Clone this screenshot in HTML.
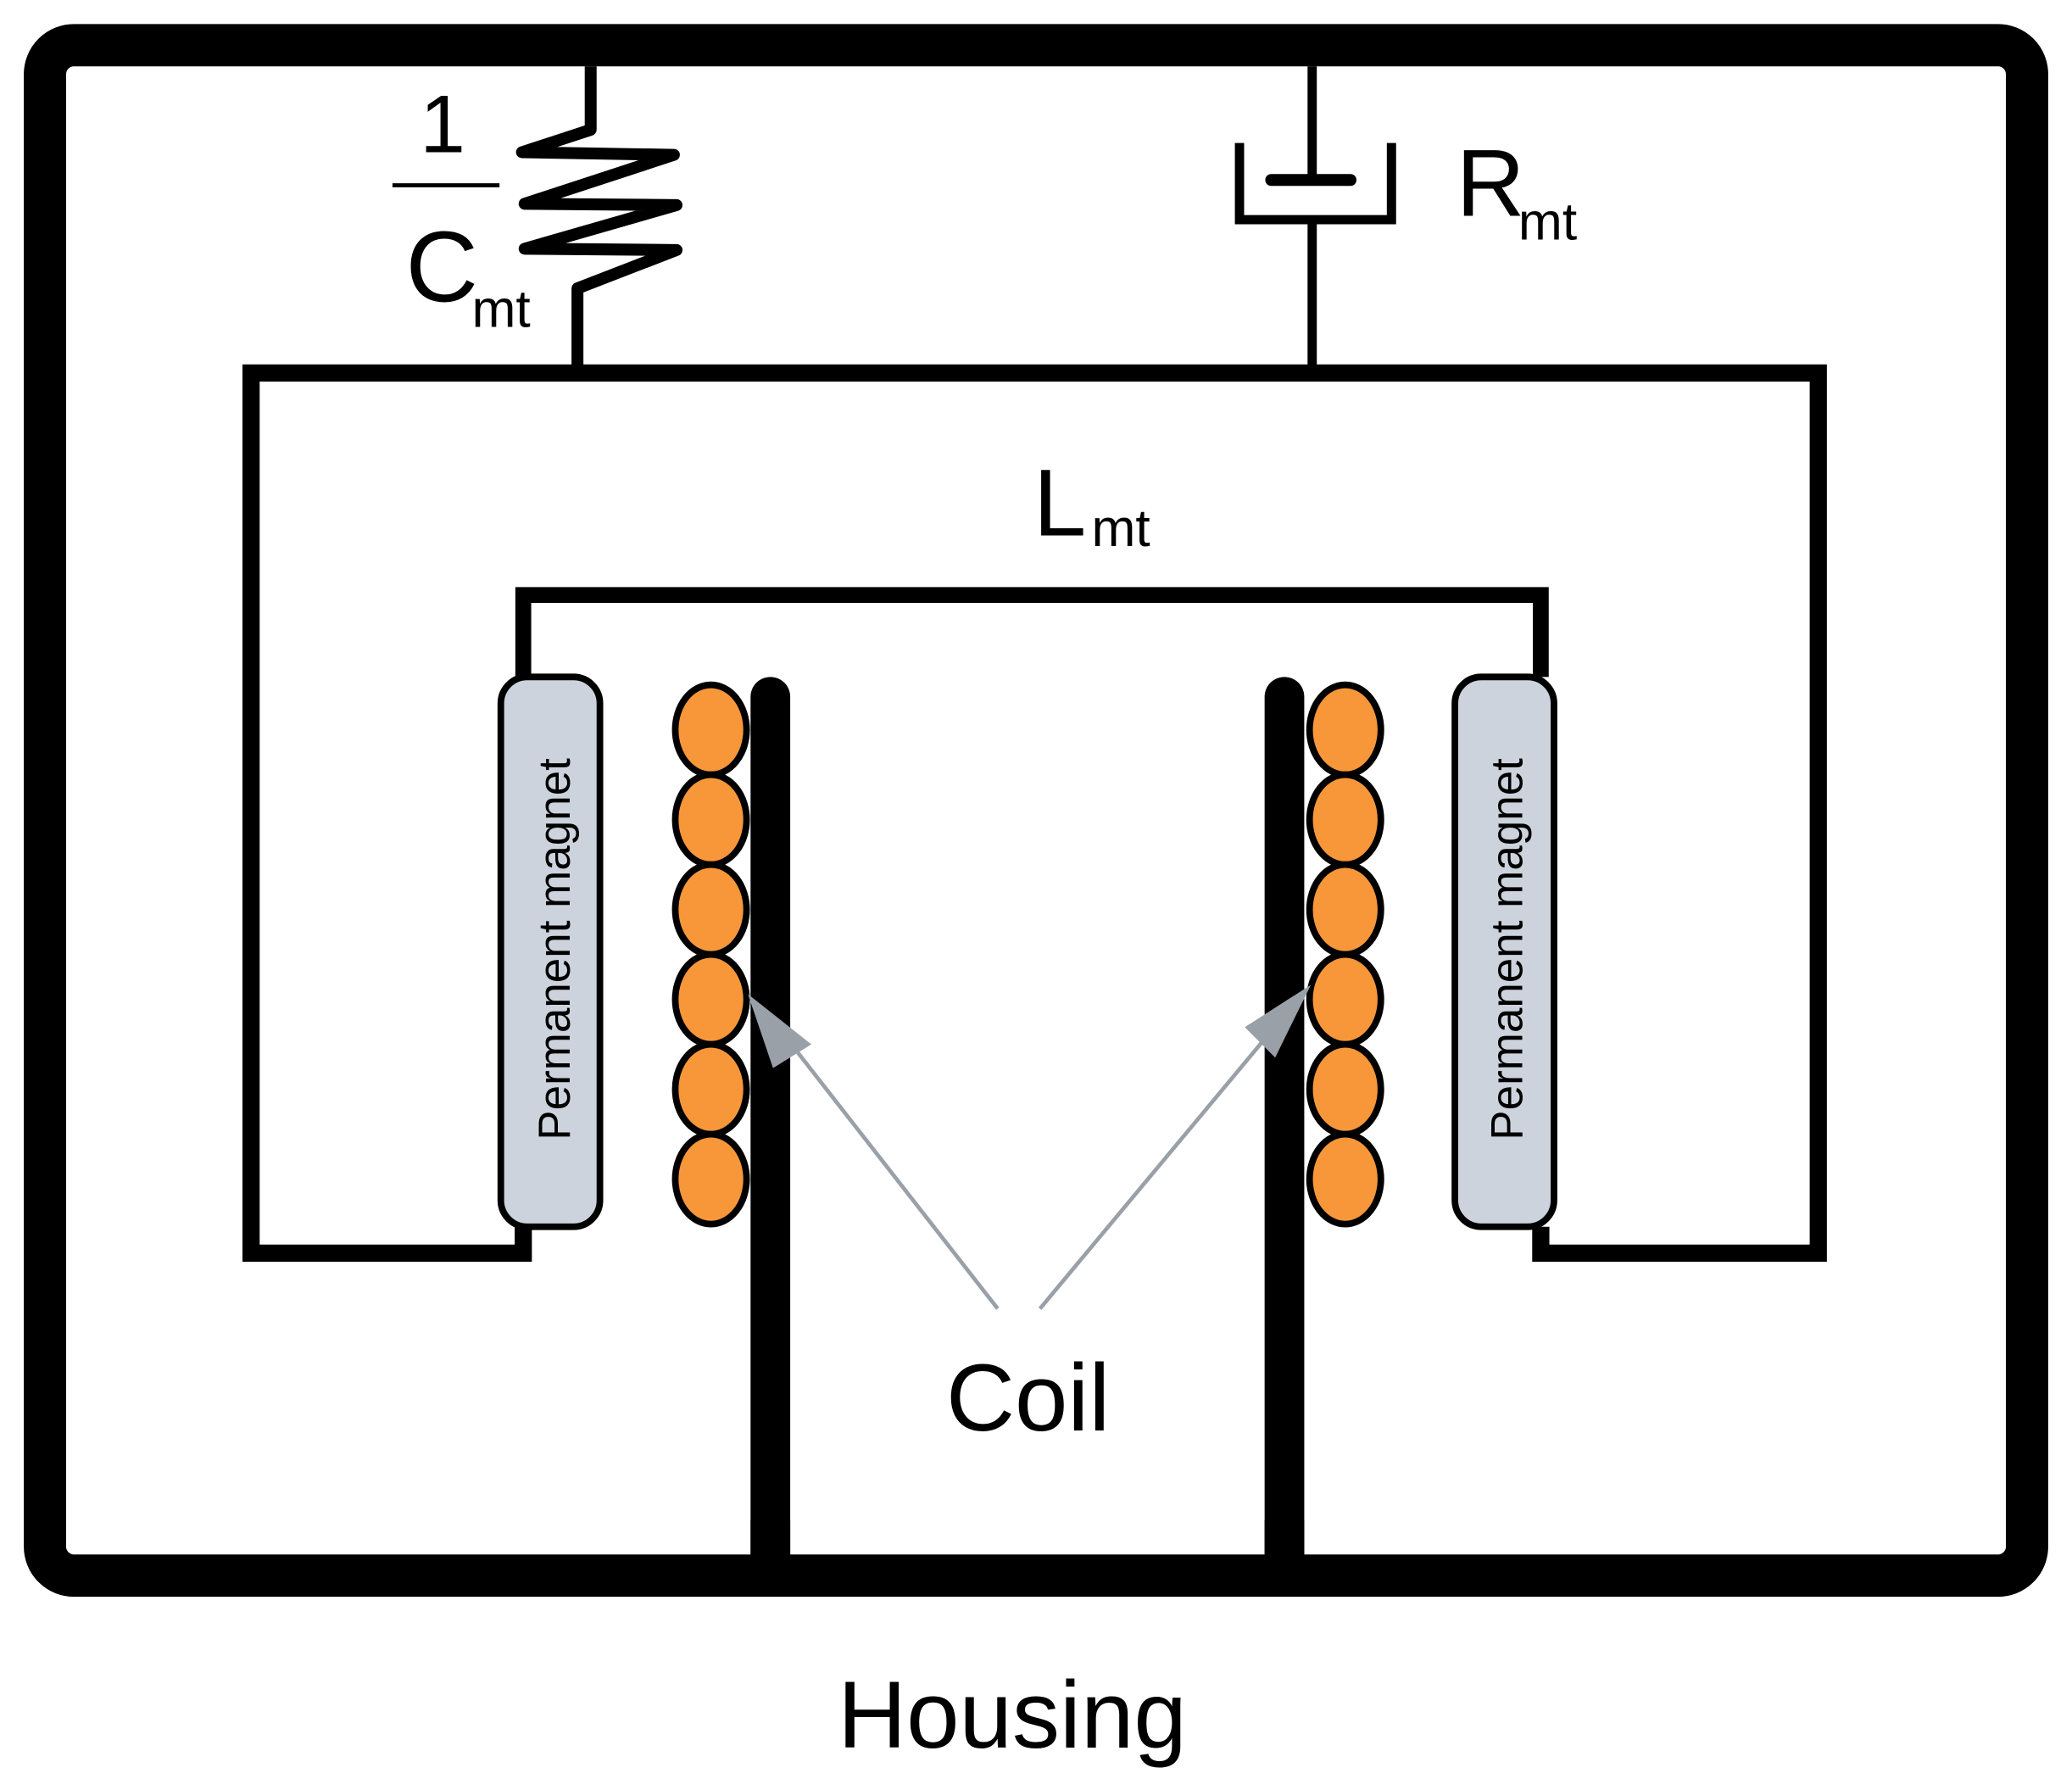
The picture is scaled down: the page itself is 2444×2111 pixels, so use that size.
<!DOCTYPE html>
<html><head><meta charset="utf-8"><style>html,body{margin:0;padding:0;background:#fff}svg{display:block}</style></head>
<body>
<svg width="2444" height="2111" viewBox="0 0 1568 1354" xmlns="http://www.w3.org/2000/svg" font-family="Liberation Sans, DejaVu Sans, sans-serif">
<rect x="0" y="0" width="1568" height="1354" fill="#fff"/>
<rect x="34" y="34" width="1500" height="1158" rx="22" fill="none" stroke="#000" stroke-width="32"/>
<path d="M447,50 V98 L395,115 L510,117 L397,154 L512,155 L397,188 L512,189 L437,218 V280" fill="none" stroke="#000" stroke-width="9" stroke-linejoin="round"/>
<line x1="993" y1="50" x2="993" y2="136" stroke="#000" stroke-width="7"/>
<line x1="962" y1="136" x2="1022" y2="136" stroke="#000" stroke-width="9" stroke-linecap="round"/>
<path d="M938,108 V166 H1053 V108" fill="none" stroke="#000" stroke-width="7"/>
<line x1="993" y1="166" x2="993" y2="280" stroke="#000" stroke-width="7"/>
<text x="335" y="115" font-size="62" text-anchor="middle">1</text>
<line x1="297" y1="140" x2="378" y2="140" stroke="#000" stroke-width="3"/>
<text x="307" y="228" font-size="76">C</text>
<text x="357" y="247" font-size="40">mt</text>
<text x="1102" y="163" font-size="72">R</text>
<text x="1149" y="181" font-size="40">mt</text>
<text x="782" y="405" font-size="72">L</text>
<text x="826" y="413" font-size="40">mt</text>
<path d="M396,928 V948 H190 V282 H1376 V948 H1166 V928" fill="none" stroke="#000" stroke-width="13"/>
<path d="M396,512 V450 H1166 V512" fill="none" stroke="#000" stroke-width="12"/>
<rect x="379" y="512" width="75" height="416" rx="20" fill="#cdd3dc" stroke="#000" stroke-width="5"/>
<rect x="1101" y="512" width="75" height="416" rx="20" fill="#cdd3dc" stroke="#000" stroke-width="5"/>
<text transform="translate(431,718) rotate(-90)" font-size="34" text-anchor="middle">Permanent magnet</text>
<text transform="translate(1152,718) rotate(-90)" font-size="34" text-anchor="middle">Permanent magnet</text>
<path d="M583,527 V1180" stroke="#000" stroke-width="30" stroke-linecap="round"/>
<path d="M972,527 V1180" stroke="#000" stroke-width="30" stroke-linecap="round"/>
<rect x="568" y="1150" width="30" height="45" fill="#000"/>
<rect x="957" y="1150" width="30" height="45" fill="#000"/>
<g fill="#f7973a" stroke="#000" stroke-width="5">
<ellipse cx="538" cy="552" rx="27" ry="34"/><ellipse cx="538" cy="620" rx="27" ry="34"/><ellipse cx="538" cy="688" rx="27" ry="34"/><ellipse cx="538" cy="756" rx="27" ry="34"/><ellipse cx="538" cy="824" rx="27" ry="34"/><ellipse cx="538" cy="892" rx="27" ry="34"/>
<ellipse cx="1018" cy="552" rx="27" ry="34"/><ellipse cx="1018" cy="620" rx="27" ry="34"/><ellipse cx="1018" cy="688" rx="27" ry="34"/><ellipse cx="1018" cy="756" rx="27" ry="34"/><ellipse cx="1018" cy="824" rx="27" ry="34"/><ellipse cx="1018" cy="892" rx="27" ry="34"/>
</g>
<g stroke="#9aa0a8" stroke-width="3" fill="#9aa0a8">
<line x1="755" y1="990" x2="595" y2="785"/>
<line x1="787" y1="990" x2="962" y2="780"/>
</g>
<polygon points="566,752 614,790 585,808" fill="#9aa0a8"/>
<polygon points="992,745 965,800 942,777" fill="#9aa0a8"/>
<text x="778" y="1082" font-size="72" text-anchor="middle">Coil</text>
<text x="766" y="1322" font-size="72" text-anchor="middle">Housing</text>
</svg>
</body></html>
